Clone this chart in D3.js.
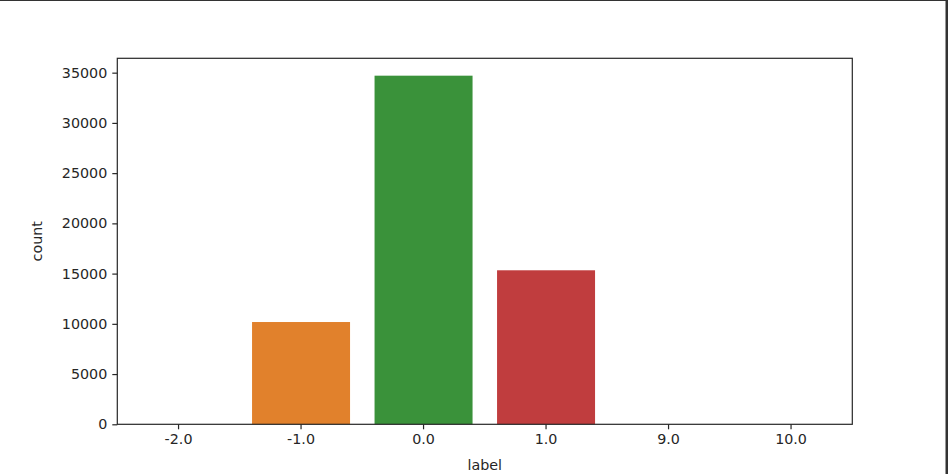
<!DOCTYPE html>
<html><head><meta charset="utf-8">
<script src="https://cdn.jsdelivr.net/npm/d3@7"></script>
<style>body{margin:0;background:#fff}svg{display:block}text{font-family:"DejaVu Sans",sans-serif;fill:#262626}</style>
</head><body><svg id="c" width="948" height="474"></svg>
<script>
const categories = ["-2.0","-1.0","0.0","1.0","9.0","10.0"];
const counts = [2, 10180, 34700, 15330, 1, 1];
const colors = ["#3274a1","#e1812c","#3a923a","#c03d3e","#9372b2","#845b53"];
const yTicks = [0,5000,10000,15000,20000,25000,30000,35000];

const svg = d3.select("#c");
const m = {l:117.3, r:852.3, t:58.3, b:424.3};
const x = d3.scaleBand().domain(categories).range([m.l, m.r]).paddingInner(0.2).paddingOuter(0.1);
const y = d3.scaleLinear().domain([0, 36430]).range([m.b, m.t]);

// outer frame
svg.append("line").attr("x1",0).attr("x2",948).attr("y1",0.5).attr("y2",0.5).attr("stroke","#333").attr("stroke-width",1);
svg.append("rect").attr("x",945.5).attr("y",0).attr("width",2.5).attr("height",474).attr("fill","#333");

svg.selectAll("rect.bar").data(categories).join("rect").attr("class","bar")
  .attr("x", d=>x(d)).attr("width", x.bandwidth())
  .attr("y", (d,i)=>y(counts[i])).attr("height",(d,i)=>y(0)-y(counts[i]))
  .attr("fill",(d,i)=>colors[i]);

const fs = "14.3px";
const xa = svg.append("g").attr("transform",`translate(0,${m.b})`)
  .call(d3.axisBottom(x).tickSize(5).tickPadding(5));
const ya = svg.append("g").attr("transform",`translate(${m.l},0)`)
  .call(d3.axisLeft(y).tickValues(yTicks).tickFormat(d3.format("d")).tickSize(5).tickPadding(5));
[xa,ya].forEach(g=>{
  g.select(".domain").remove();
  g.selectAll("line").attr("stroke","#262626").attr("stroke-width",1.2);
  g.selectAll("text").style("font-size",fs).attr("fill","#262626");
});
// frame of the axes
svg.append("rect").attr("x",m.l).attr("y",m.t).attr("width",m.r-m.l).attr("height",m.b-m.t)
  .attr("fill","none").attr("stroke","#262626").attr("stroke-width",1.2);

svg.append("text").attr("x",(m.l+m.r)/2).attr("y",470).attr("text-anchor","middle").style("font-size",fs).text("label");
svg.append("text").attr("transform",`translate(42,${(m.t+m.b)/2}) rotate(-90)`).attr("text-anchor","middle").style("font-size",fs).text("count");
</script></body></html>
